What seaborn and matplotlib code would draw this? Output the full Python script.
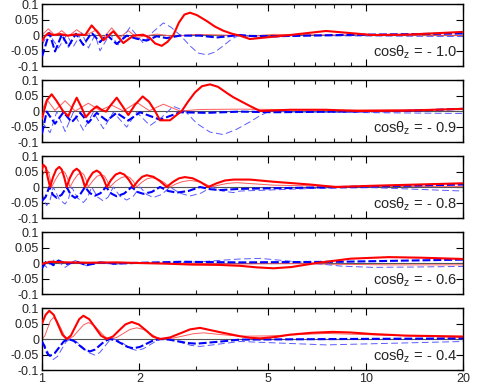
import matplotlib
matplotlib.use("Agg")
import matplotlib.pyplot as plt
import seaborn as sns
from matplotlib.ticker import FixedLocator, FixedFormatter, NullFormatter

# ---------------- data ----------------
panel_labels = ["- 1.0", "- 0.9", "- 0.8", "- 0.6", "- 0.4"]

# panel 1 : cos = -1.0
p1_red_x = [1.0, 1.021, 1.046, 1.084, 1.14, 1.2, 1.27, 1.36, 1.424, 1.49, 1.548, 1.661, 1.784, 1.915, 2.056,
            2.157, 2.235, 2.344, 2.442, 2.547, 2.649, 2.755, 2.867, 3.013, 3.23, 3.425, 3.63, 3.865, 4.09,
            4.39, 5.84, 7.55, 10.5, 13.3, 20]
p1_red_y = [-0.02, -0.004, 0.006, 0.0, 0.003, -0.002, 0.002, 0.0, 0.031, 0.007, -0.017, 0.012, -0.026, -0.002, 0.001,
            -0.01, -0.027, -0.035, -0.022, 0.0, 0.04, 0.066, 0.072, 0.064, 0.045, 0.027, 0.014, 0.004, -0.002,
            -0.013, 0.0, 0.013, 0.0, 0.001, 0.01]
p1_pink_x = [1.0, 1.046, 1.097, 1.151, 1.206, 1.28, 1.358, 1.476, 1.548, 1.642, 1.742, 1.848, 1.961, 2.26, 2.55, 3.0, 3.6, 4.4, 5.2, 8.3, 20]
p1_pink_y = [0.0, 0.02, -0.002, 0.014, -0.004, 0.017, -0.002, 0.017, -0.01, 0.023, -0.008, 0.014, -0.008, 0.003, -0.004, 0.002, 0.0, -0.004, 0.002, 0.0, -0.001]
p1_blue_x = [1.0, 1.054, 1.097, 1.151, 1.206, 1.273, 1.342, 1.424, 1.511, 1.585, 1.701, 1.827, 1.961, 2.106, 2.261, 2.429, 2.67, 3.078, 3.464, 4.09, 4.39, 5.19, 8.34, 20]
p1_blue_y = [-0.07, 0.007, -0.053, 0.001, -0.037, 0.004, -0.032, 0.007, -0.023, 0.001, -0.029, -0.002, -0.012, -0.018, -0.004, -0.01, -0.002, -0.002, -0.008, 0.0, -0.003, -0.004, 0.0, 0.005]
p1_lblue_x = [1.0, 1.046, 1.124, 1.193, 1.25, 1.327, 1.391, 1.459, 1.511, 1.622, 1.72, 1.87, 2.056, 2.203, 2.372,
              2.504, 2.67, 2.867, 3.034, 3.226, 3.425, 3.63, 3.865, 4.09, 4.72, 6.74, 20]
p1_lblue_y = [-0.032, 0.007, -0.042, 0.001, -0.037, 0.007, -0.042, 0.001, -0.051, 0.004, -0.032, 0.025, -0.026, 0.01, 0.039,
              0.025, 0.0, -0.035, -0.058, -0.064, -0.055, -0.035, -0.012, 0.0, -0.008, -0.002, -0.005]

# panel 2 : cos = -0.9
p2_red_x = [1.0, 1.014, 1.036, 1.071, 1.105, 1.161, 1.206, 1.242, 1.28, 1.32, 1.366, 1.417, 1.476, 1.527, 1.577,
            1.634, 1.702, 1.767, 1.848, 1.938, 2.047, 2.141, 2.235, 2.316, 2.486, 2.576, 2.703, 2.826, 2.97,
            3.122, 3.305, 3.498, 3.704, 3.893, 4.092, 4.393, 4.718, 5.84, 7.55, 9.5, 13.3, 20]
p2_red_y = [-0.025, 0.0, 0.035, 0.054, 0.035, 0.0, -0.017, 0.015, 0.043, 0.015, -0.02, 0.0, 0.015, 0.004, -0.002,
            0.02, 0.043, 0.018, -0.013, 0.02, 0.047, 0.03, 0.0, -0.03, -0.03, -0.017, 0.0, 0.03, 0.06,
            0.08, 0.086, 0.078, 0.06, 0.045, 0.033, 0.016, 0.0, 0.004, 0.004, 0.0, 0.001, 0.007]
p2_pink_x = [1.0, 1.034, 1.097, 1.179, 1.266, 1.391, 1.511, 1.642, 1.784, 1.961, 2.147, 2.372, 2.67, 3.078, 4.09, 8.34, 20]
p2_pink_y = [0.0, 0.038, 0.002, 0.033, 0.0, 0.025, 0.002, 0.019, 0.0, 0.028, 0.001, 0.022, 0.0, 0.005, 0.006, 0.003, 0.006]
p2_blue_x = [1.0, 1.034, 1.097, 1.165, 1.236, 1.313, 1.391, 1.476, 1.585, 1.701, 1.848, 2.008, 2.316, 2.67, 3.226, 4.09, 5.19, 8.34, 13.3, 20]
p2_blue_y = [-0.073, -0.002, -0.041, -0.004, -0.036, -0.006, -0.038, -0.006, -0.031, -0.006, -0.031, -0.004, -0.028, -0.004, -0.006, -0.002, -0.004, -0.002, 0.0, 0.007]
p2_lblue_x = [1.0, 1.059, 1.111, 1.179, 1.25, 1.342, 1.441, 1.548, 1.661, 1.827, 1.961, 2.157, 2.344, 2.547, 2.766,
              3.007, 3.305, 3.63, 3.977, 4.393, 4.718, 5.066, 5.84, 20]
p2_lblue_y = [-0.036, -0.07, -0.002, -0.066, -0.004, -0.062, -0.004, -0.057, -0.004, -0.052, -0.004, -0.047, -0.02, 0.015, 0.0,
              -0.04, -0.068, -0.076, -0.06, -0.035, -0.015, 0.0, -0.003, -0.008]

# panel 3 : cos = -0.8
p3_red_x = [1.0, 1.009, 1.028, 1.039, 1.059, 1.082, 1.106, 1.131, 1.151, 1.171, 1.192, 1.22, 1.25, 1.28, 1.306,
            1.331, 1.358, 1.396, 1.435, 1.476, 1.511, 1.548, 1.585, 1.635, 1.688, 1.742, 1.797, 1.856, 1.915,
            1.977, 2.04, 2.106, 2.209, 2.316, 2.429, 2.536, 2.649, 2.766, 2.924, 3.089, 3.265, 3.464, 3.677,
            3.901, 4.39, 5.19, 6.74, 8.08, 10.5, 20]
p3_red_y = [0.056, 0.072, 0.063, 0.036, 0.0, 0.032, 0.056, 0.065, 0.056, 0.032, 0.0, 0.03, 0.051, 0.059, 0.051,
            0.03, 0.0, 0.027, 0.046, 0.053, 0.046, 0.027, 0.0, 0.023, 0.04, 0.046, 0.04, 0.023, 0.0,
            0.019, 0.033, 0.038, 0.033, 0.019, 0.0, 0.016, 0.028, 0.032, 0.028, 0.016, 0.0, 0.012, 0.021,
            0.024, 0.024, 0.017, 0.008, 0.0, 0.004, 0.012]
p3_pink_x = [1.0, 1.0165, 1.034, 1.047, 1.059, 1.071, 1.102, 1.132, 1.164, 1.182, 1.202, 1.22, 1.255, 1.29, 1.326,
             1.347, 1.369, 1.39, 1.435, 1.481, 1.529, 1.56, 1.59, 1.622, 1.688, 1.756, 1.827, 1.87, 1.916,
             1.962, 2.033, 2.106, 2.183, 2.28, 2.381, 2.486, 2.608, 2.733, 2.867, 3.017, 3.178, 3.345, 3.549,
             3.765, 3.997, 5.19, 8.34, 20]
p3_pink_y = [0.035, 0.048, 0.056, 0.049, 0.028, 0.0, 0.025, 0.044, 0.051, 0.044, 0.025, 0.0, 0.023, 0.04, 0.046,
             0.04, 0.023, 0.0, 0.02, 0.035, 0.04, 0.035, 0.02, 0.0, 0.018, 0.03, 0.035, 0.03, 0.018,
             0.0, 0.015, 0.026, 0.03, 0.026, 0.015, 0.0, 0.011, 0.018, 0.021, 0.018, 0.011, 0.0, 0.007,
             0.012, 0.014, 0.006, 0.002, 0.002]
p3_blue_x = [1.0, 1.026, 1.053, 1.081, 1.11, 1.15, 1.192, 1.227, 1.265, 1.31, 1.358, 1.407, 1.458, 1.516, 1.577,
             1.637, 1.702, 1.795, 1.893, 1.973, 2.056, 2.183, 2.316, 2.456, 2.608, 2.832, 3.078, 3.305, 3.549,
             4.092, 5.19, 6.74, 10.5, 20]
p3_blue_y = [-0.045, -0.032, 0.0, -0.025, -0.035, -0.025, 0.0, -0.025, -0.035, -0.025, 0.0, -0.02, -0.028, -0.02, 0.0,
             -0.021, -0.03, -0.021, 0.0, -0.016, -0.022, -0.016, 0.0, -0.013, -0.018, -0.013, 0.0, -0.007, -0.01,
             -0.006, -0.004, -0.002, 0.002, 0.008]
p3_lblue_x = [1.0, 1.0165, 1.034, 1.059, 1.084, 1.13, 1.178, 1.207, 1.235, 1.287, 1.342, 1.382, 1.424, 1.484, 1.547,
              1.603, 1.661, 1.742, 1.827, 1.915, 2.008, 2.106, 2.208, 2.344, 2.486, 2.67, 2.867, 3.096, 3.345,
              3.613, 3.901, 4.092, 6.74, 10.5, 20]
p3_lblue_y = [-0.018, -0.045, -0.06, -0.042, 0.0, -0.039, -0.055, -0.039, 0.0, -0.035, -0.05, -0.035, 0.0, -0.032, -0.045,
              -0.032, 0.0, -0.03, -0.042, -0.03, 0.0, -0.024, -0.034, -0.024, 0.0, -0.02, -0.029, -0.02, 0.0,
              -0.013, -0.018, -0.013, -0.005, -0.002, -0.013]

# panel 4 : cos = -0.6
p4_red_x = [1.0, 1.06, 1.2, 1.4, 1.7, 2.0, 2.4, 2.9, 3.5, 4.09, 4.6, 5.19, 5.9, 7.04, 9.0, 11.8, 15, 20]
p4_red_y = [-0.003, 0.004, 0.002, 0.001, 0.002, 0.0, -0.002, -0.005, -0.006, -0.009, -0.014, -0.017, -0.013, 0.0, 0.014, 0.019, 0.017, 0.013]
p4_pink_x = [1.0, 1.3, 2.0, 3.0, 4.09, 6.0, 8.0, 12, 20]
p4_pink_y = [0.002, 0.001, 0.0, -0.002, -0.003, -0.002, -0.004, -0.006, -0.006]
p4_blue_x = [1.0, 1.034, 1.084, 1.124, 1.193, 1.28, 1.374, 1.511, 1.70, 1.915, 2.7, 4.09, 8.34, 20]
p4_blue_y = [-0.017, 0.008, -0.007, 0.008, -0.003, 0.004, -0.007, 0.002, -0.002, 0.0, 0.004, 0.002, 0.004, 0.011]
p4_lblue_x = [1.0, 1.034, 1.097, 1.179, 1.266, 1.374, 1.511, 1.661, 1.915, 2.43, 3.08, 4.09, 4.72, 6.74, 8.4, 10.5, 14, 20]
p4_lblue_y = [0.0, -0.014, 0.013, -0.014, 0.008, -0.009, 0.002, -0.005, 0.002, 0.0, 0.004, 0.013, 0.015, 0.0, -0.01, -0.014, -0.013, -0.011]

# panel 5 : cos = -0.4
p5_red_x = [1.0, 1.026, 1.053, 1.087, 1.121, 1.156, 1.192, 1.228, 1.265, 1.303, 1.342, 1.399, 1.458, 1.521, 1.585,
            1.656, 1.732, 1.81, 1.893, 1.991, 2.095, 2.201, 2.316, 2.486, 2.67, 2.867, 3.078, 3.549, 4.092,
            4.4, 4.72, 5.3, 5.84, 6.8, 7.9, 9.0, 10.5, 13.3, 20]
p5_red_y = [0.05, 0.078, 0.091, 0.078, 0.046, 0.014, 0.0, 0.011, 0.038, 0.064, 0.075, 0.064, 0.038, 0.011, 0.0,
            0.008, 0.028, 0.047, 0.055, 0.047, 0.028, 0.008, 0.0, 0.005, 0.018, 0.031, 0.036, 0.022, 0.009,
            0.004, 0.002, 0.007, 0.014, 0.02, 0.023, 0.021, 0.016, 0.011, 0.008]
p5_pink_x = [1.0, 1.02, 1.041, 1.062, 1.084, 1.113, 1.143, 1.174, 1.206, 1.249, 1.295, 1.342, 1.39, 1.445, 1.502,
             1.561, 1.622, 1.702, 1.785, 1.87, 1.962, 2.056, 2.157, 2.262, 2.371, 2.545, 2.733, 2.935, 3.151,
             3.599, 4.092, 5.0, 7.55, 11.0, 20]
p5_pink_y = [0.0, 0.01, 0.035, 0.059, 0.069, 0.059, 0.035, 0.01, 0.0, 0.008, 0.027, 0.045, 0.053, 0.045, 0.027,
             0.008, 0.0, 0.005, 0.018, 0.031, 0.036, 0.031, 0.018, 0.005, 0.0, 0.003, 0.01, 0.017, 0.02,
             0.014, 0.009, 0.01, 0.018, 0.013, 0.005]
p5_blue_x = [1.0, 1.014, 1.029, 1.044, 1.059, 1.094, 1.13, 1.167, 1.206, 1.253, 1.303, 1.354, 1.407, 1.458, 1.511,
             1.566, 1.622, 1.691, 1.763, 1.838, 1.915, 2.008, 2.106, 2.208, 2.316, 2.469, 2.638, 2.816, 3.007,
             3.498, 4.092, 8.34, 20]
p5_blue_y = [-0.008, -0.02, -0.038, -0.05, -0.054, -0.046, -0.027, -0.008, 0.0, -0.006, -0.02, -0.034, -0.04, -0.034, -0.02,
             -0.006, 0.0, -0.0045, -0.015, -0.0255, -0.03, -0.0255, -0.015, -0.0045, 0.0, -0.002, -0.0075, -0.013, -0.015,
             -0.009, -0.002, 0.0, 0.002]
p5_lblue_x = [1.0, 1.02, 1.041, 1.062, 1.084, 1.117, 1.15, 1.185, 1.22, 1.276, 1.334, 1.395, 1.458, 1.507, 1.557,
              1.607, 1.661, 1.732, 1.805, 1.883, 1.962, 2.056, 2.157, 2.262, 2.371, 2.531, 2.702, 2.883, 3.078,
              3.549, 4.092, 7.55, 20]
p5_lblue_y = [-0.01, -0.02, -0.04, -0.059, -0.066, -0.056, -0.033, -0.01, 0.0, -0.008, -0.026, -0.044, -0.052, -0.044, -0.026,
              -0.008, 0.0, -0.0055, -0.0185, -0.0315, -0.037, -0.0315, -0.0185, -0.0055, 0.0, -0.0036, -0.012, -0.0204, -0.024,
              -0.016, -0.008, -0.019, -0.008]

x_ticks = [1, 2, 5, 10, 20]
x_ticklabels = ["1", "2", "5", "10", "20"]
x_minor = [3, 4, 6, 7, 8, 9]
y_ticks = [-0.1, -0.05, 0, 0.05, 0.1]
y_ticklabels = ["-0.1", "-0.05", "0", "0.05", "0.1"]

panels = [
    (p1_red_x, p1_red_y, p1_pink_x, p1_pink_y, p1_blue_x, p1_blue_y, p1_lblue_x, p1_lblue_y),
    (p2_red_x, p2_red_y, p2_pink_x, p2_pink_y, p2_blue_x, p2_blue_y, p2_lblue_x, p2_lblue_y),
    (p3_red_x, p3_red_y, p3_pink_x, p3_pink_y, p3_blue_x, p3_blue_y, p3_lblue_x, p3_lblue_y),
    (p4_red_x, p4_red_y, p4_pink_x, p4_pink_y, p4_blue_x, p4_blue_y, p4_lblue_x, p4_lblue_y),
    (p5_red_x, p5_red_y, p5_pink_x, p5_pink_y, p5_blue_x, p5_blue_y, p5_lblue_x, p5_lblue_y),
]

# ---------------- styling ----------------
sns.set_style("ticks")
plt.rcParams["font.family"] = ["Liberation Sans", "DejaVu Sans"]
plt.rcParams["mathtext.fontset"] = "custom"
plt.rcParams["mathtext.rm"] = "Liberation Sans"
plt.rcParams["mathtext.it"] = "Liberation Sans"

fig, axes = plt.subplots(5, 1, figsize=(4.8, 3.82), dpi=100, sharex=True)
fig.subplots_adjust(left=0.0875, right=0.9646, top=0.9895, bottom=0.0314, hspace=0.226)

for i, (ax, data, lab) in enumerate(zip(axes, panels, panel_labels)):
    rx, ry, px_, py_, bx, by, lx, ly = data
    ax.axhline(0, color="#555555", lw=0.8, zorder=1)
    sns.lineplot(x=px_, y=py_, ax=ax, color="#ff5a5a", lw=0.7, sort=False, zorder=2)
    sns.lineplot(x=lx, y=ly, ax=ax, color="#5a5aff", lw=0.7, sort=False, zorder=2,
                 linestyle=(0, (7, 3.5)))
    sns.lineplot(x=bx, y=by, ax=ax, color="#0000ff", lw=1.5, sort=False, zorder=3,
                 linestyle=(0, (3.8, 1.4)))
    sns.lineplot(x=rx, y=ry, ax=ax, color="#ff0000", lw=1.5, sort=False, zorder=4)

    ax.set_xscale("log")
    ax.set_xlim(1, 20)
    ax.set_ylim(-0.1, 0.1)
    ax.xaxis.set_major_locator(FixedLocator(x_ticks))
    ax.xaxis.set_minor_locator(FixedLocator(x_minor))
    ax.xaxis.set_minor_formatter(NullFormatter())
    if i == 4:
        ax.xaxis.set_major_formatter(FixedFormatter(x_ticklabels))
    else:
        ax.xaxis.set_major_formatter(NullFormatter())
    ax.yaxis.set_major_locator(FixedLocator(y_ticks))
    ax.yaxis.set_major_formatter(FixedFormatter(y_ticklabels))
    ax.tick_params(axis="both", which="major", direction="in", top=True, right=True,
                   length=5, width=0.8, labelsize=9, pad=2, color="black")
    ax.tick_params(axis="x", which="minor", direction="in", top=True, bottom=True,
                   length=3, width=0.8)
    for s in ax.spines.values():
        s.set_linewidth(1.0)
        s.set_color("black")
    ax.set_xlabel("")
    ax.set_ylabel("")
    ax.text(0.985, 0.22, r"cos$\theta_{\mathrm{z}}$ = " + lab, transform=ax.transAxes,
            ha="right", va="center", fontsize=10.5)

fig.savefig("out.png", dpi=100)
